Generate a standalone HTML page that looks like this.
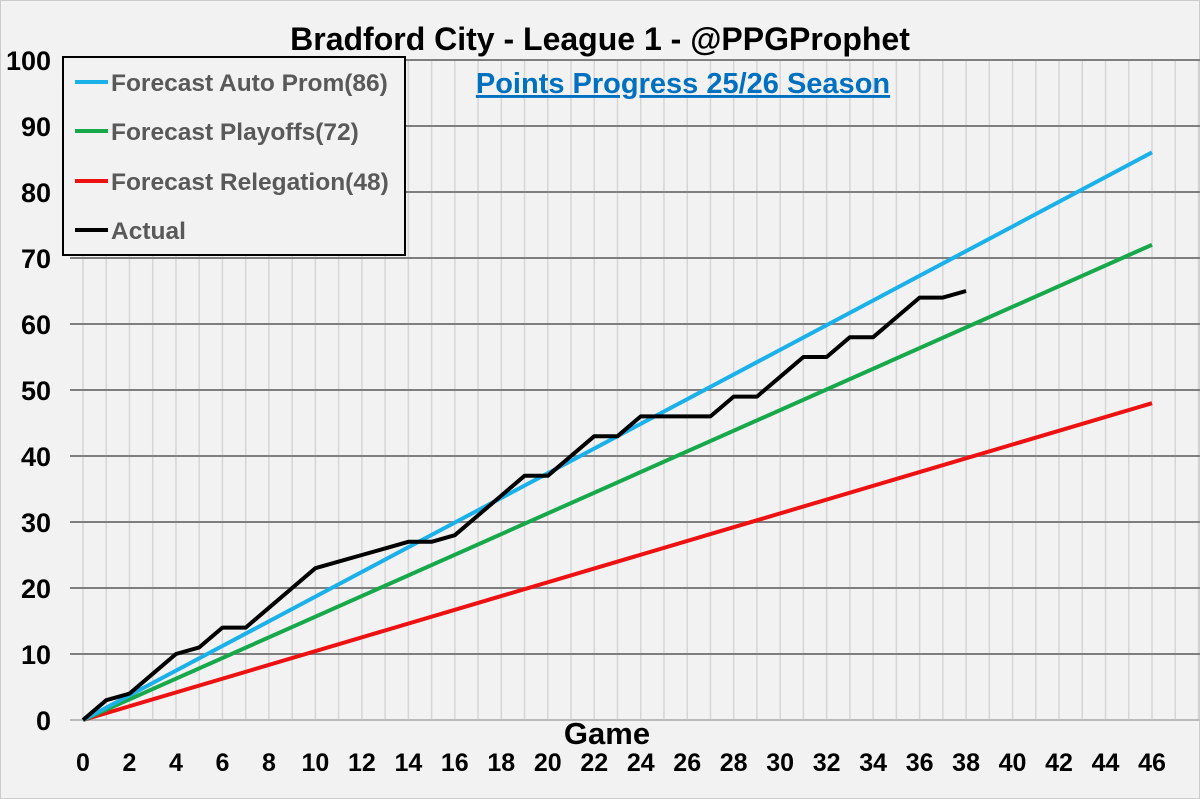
<!DOCTYPE html>
<html><head><meta charset="utf-8"><style>
html,body{margin:0;padding:0;background:#fff;}
svg{display:block;font-family:"Liberation Sans",sans-serif;}
</style></head><body>
<svg id="chart" width="1200" height="799" viewBox="0 0 1200 799">
<rect x="0.5" y="0.5" width="1199" height="798" fill="#f2f2f2" stroke="#ccc"/>
<g id="grid"></g>
<g id="series"></g>
<g id="axes"></g>
<text x="600" y="50" text-anchor="middle" font-size="32" font-weight="bold" fill="#000">Bradford City - League 1 - @PPGProphet</text>
<text x="683" y="93" text-anchor="middle" font-size="29" font-weight="bold" fill="#0070c0" text-decoration="underline">Points Progress 25/26 Season</text>
<text x="607" y="744" text-anchor="middle" font-size="31" font-weight="bold" fill="#000">Game</text>
<g>
<rect x="63" y="57" width="342" height="198" fill="#f2f2f2" stroke="#000" stroke-width="2"/>
<g><line x1="75" y1="82" x2="108" y2="82" stroke="#1ab0ea" stroke-width="4"/><text x="111" y="91" font-size="24.5" font-weight="bold" fill="#595959">Forecast Auto Prom(86)</text></g>
<g><line x1="75" y1="131" x2="108" y2="131" stroke="#17a84a" stroke-width="4"/><text x="111" y="140" font-size="24.5" font-weight="bold" fill="#595959">Forecast Playoffs(72)</text></g>
<g><line x1="75" y1="181" x2="108" y2="181" stroke="#ee1111" stroke-width="4"/><text x="111" y="190" font-size="24.5" font-weight="bold" fill="#595959">Forecast Relegation(48)</text></g>
<g><line x1="75" y1="230" x2="108" y2="230" stroke="#000" stroke-width="4"/><text x="111" y="239" font-size="24.5" font-weight="bold" fill="#595959">Actual</text></g>
</g>
</svg>
<script>
const games = [0,1,2,3,4,5,6,7,8,9,10,11,12,13,14,15,16,17,18,19,20,21,22,23,24,25,26,27,28,29,30,31,32,33,34,35,36,37,38];
const actual = [0,3,4,7,10,11,14,14,17,20,23,24,25,26,27,27,28,31,34,37,37,40,43,43,46,46,46,46,49,49,52,55,55,58,58,61,64,64,65];
const autoPromTotal = 86;
const playoffsTotal = 72;
const relegationTotal = 48;
const seasonGames = 46;
const yTicks = [0,10,20,30,40,50,60,70,80,90,100];
const xTicks = [0,2,4,6,8,10,12,14,16,18,20,22,24,26,28,30,32,34,36,38,40,42,44,46];

const NS="http://www.w3.org/2000/svg";
const X0=83,X1=1152,Y0=720,Y1=60;
const xs=g=>X0+(X1-X0)*g/seasonGames;
const ys=v=>Y0-(Y0-Y1)*v/100;
function mk(tag,attrs,parent){const e=document.createElementNS(NS,tag);for(const k in attrs)e.setAttribute(k,attrs[k]);parent.appendChild(e);return e;}
const grid=document.getElementById('grid'),series=document.getElementById('series'),axes=document.getElementById('axes');
for(let g=0;g<=seasonGames+2;g++){
  const l=mk('line',{x1:xs(g),x2:xs(g),y1:Y1,y2:Y0,stroke:'#d6d6d6','stroke-width':1.5},grid);
  
  
}
yTicks.forEach(v=>{
  const l=mk('line',{x1:70,x2:1200,y1:ys(v),y2:ys(v),stroke:v===0?'#bbb':'#7f7f7f','stroke-width':2},grid);
  
  
  const t=mk('text',{x:51,y:ys(v)+10,'text-anchor':'end','font-size':27,'font-weight':'bold',fill:'#000'},axes);
  t.textContent=v;
  
  
});
xTicks.forEach(g=>{
  const t=mk('text',{x:xs(g),y:771,'text-anchor':'middle','font-size':25,'font-weight':'bold',fill:'#000'},axes);
  t.textContent=g;
  
  
});
function fc(total,color,name){
  const l=mk('line',{x1:xs(0),y1:ys(0),x2:xs(seasonGames),y2:ys(total),stroke:color,'stroke-width':4},series);
  
  
}
fc(relegationTotal,'#ee1111','relegation-forecast-line');
fc(playoffsTotal,'#17a84a','playoffs-forecast-line');
fc(autoPromTotal,'#1ab0ea','auto-prom-forecast-line');
const p=mk('polyline',{points:games.map((g,i)=>xs(g)+','+ys(actual[i])).join(' '),fill:'none',stroke:'#000','stroke-width':4,'stroke-linejoin':'round'},series);


</script>
</body></html>
